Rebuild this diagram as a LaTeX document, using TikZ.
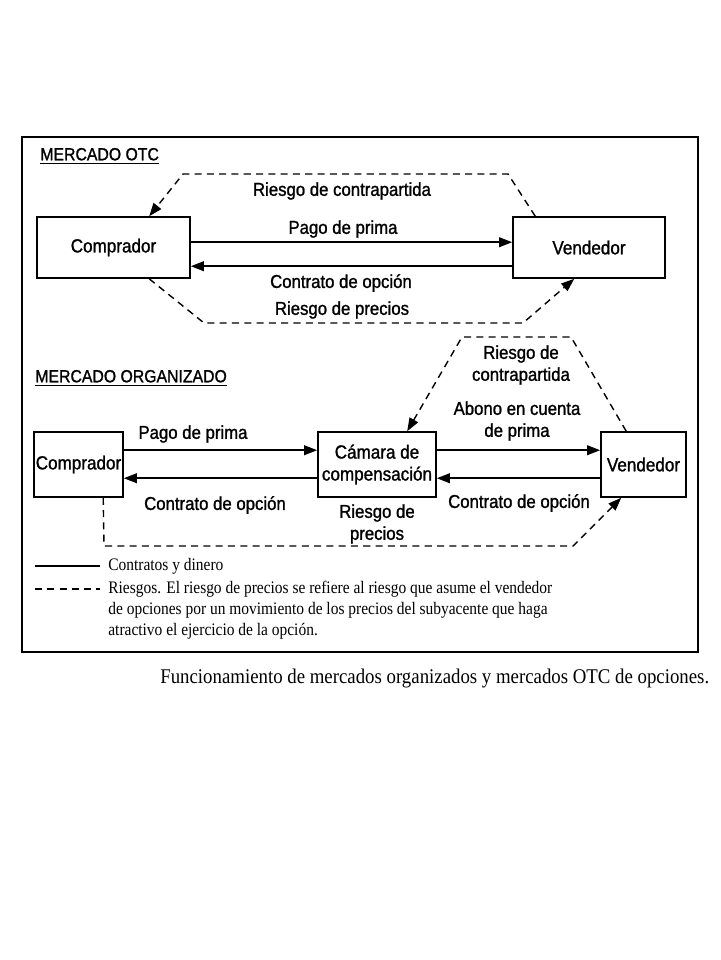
\documentclass[tikz,border=0pt]{standalone}
\usepackage{fontspec}
\setmainfont{Liberation Serif}
\newfontfamily\dsans[FakeStretch=0.9,FakeBold=1.2]{Liberation Sans}
\newfontfamily\dserif[FakeStretch=0.88]{Liberation Serif}
\newfontfamily\cserif[FakeStretch=0.9]{Liberation Serif}
\usetikzlibrary{arrows.meta,calc}
\begin{document}
\begin{tikzpicture}[x=0.02cm,y=-0.02cm,
  box/.style={draw,line width=0.9pt,inner sep=0pt,font=\dsans\fontsize{10.8}{12.5}\selectfont,align=center},
  lbl/.style={font=\dsans\fontsize{10.6}{12.5}\selectfont,align=center,inner sep=0pt},
  ttl/.style={font=\dsans\fontsize{10}{12}\selectfont,anchor=west,inner sep=0pt},
  flow/.style={line width=1.1pt,-{Triangle[length=7.5pt,width=5.5pt]}},
  risk/.style={line width=0.8pt,dash pattern=on 4pt off 3pt,-{Triangle[length=7.5pt,width=5.5pt]}},
  leg/.style={font=\dserif\fontsize{10}{12}\selectfont,anchor=west,inner sep=0pt,align=left}]
\useasboundingbox (0,0) rectangle (720,960);
\fill[white] (0,0) rectangle (720,960);
% frame
\draw[line width=1.2pt] (22,137) rectangle (698,652);

% ---------------- OTC
\node[ttl] (t1) at (40,156) {\underline{MERCADO OTC}};
\node[box,minimum width=3.06cm,minimum height=1.22cm] (c1) at (113.5,247.5) {Comprador};
\node[box,minimum width=3.04cm,minimum height=1.22cm] (v1) at (589,247.5) {Vendedor};
\draw[flow] ($(c1.north east)+(0,26)$) -- ($(v1.north west)+(0,26)$);
\draw[flow] ($(v1.north west)+(0,50)$) -- ($(c1.north east)+(0,50)$);
\coordinate (a1) at (508,174);
\coordinate (a2) at (183,174);
\coordinate (a3) at (204,323);
\coordinate (a4) at (523,323);
\draw[risk] ($(v1.north west)+(23,0)$) -- (a1) -- (a2) -- ($(c1.north west)+(113,0)$);
\draw[risk] ($(c1.south west)+(113,0)$) -- (a3) -- (a4) -- ($(v1.south west)+(62,0)$);
\node[lbl] (l1) at (342,191) {Riesgo de contrapartida};
\node[lbl] (l2) at (343,229) {Pago de prima};
\node[lbl] (l3) at (341,283) {Contrato de opción};
\node[lbl] (l4) at (342,310) {Riesgo de precios};

% ---------------- Organizado
\node[ttl] (t2) at (35,378) {\underline{MERCADO ORGANIZADO}};
\node[box,minimum width=1.78cm,minimum height=1.3cm] (c2) at (78.5,464.5) {Comprador};
\node[box,minimum width=2.36cm,minimum height=1.3cm] (k) at (377,464.5) {Cámara de\\compensación};
\node[box,minimum width=1.7cm,minimum height=1.3cm] (v2) at (643.5,464.5) {Vendedor};
\draw[flow] ($(c2.north east)+(0,19)$) -- ($(k.north west)+(0,19)$);
\draw[flow] ($(k.north west)+(0,47)$) -- ($(c2.north east)+(0,47)$);
\draw[flow] ($(k.north east)+(0,19)$) -- ($(v2.north west)+(0,19)$);
\draw[flow] ($(v2.north west)+(0,47)$) -- ($(k.north east)+(0,47)$);
\coordinate (b1) at (571,337);
\coordinate (b2) at (462,337);
\coordinate (b3) at (104,546);
\coordinate (b4) at (573,546);
\draw[risk] ($(v2.north west)+(26,0)$) -- (b1) -- (b2) -- ($(k.north west)+(90,0)$);
\draw[risk] ($(c2.south west)+(70,0)$) -- (b3) -- (b4) -- ($(v2.south west)+(21,0)$);
\node[lbl] (m1) at (193,434) {Pago de prima};
\node[lbl] (m2) at (215,505) {Contrato de opción};
\node[lbl] (m3) at (517,421) {Abono en cuenta\\de prima};
\node[lbl] (m4) at (519,503) {Contrato de opción};
\node[lbl] (m5) at (521,365) {Riesgo de\\contrapartida};
\node[lbl] (m6) at (377,524) {Riesgo de\\precios};

% ---------------- Legend
\coordinate (g1) at (35,566);
\coordinate (g2) at (100,566);
\coordinate (g3) at (35,589);
\coordinate (g4) at (100,589);
\draw[line width=0.8pt] (g1) -- (g2);
\draw[line width=0.8pt,dash pattern=on 4pt off 3pt] (g3) -- (g4);
\node[leg] (n1) at (108,566) {Contratos y dinero};
\node[leg] (n2) at (108,610) {Riesgos. El riesgo de precios se refiere al riesgo que asume el vendedor\\de opciones por un movimiento de los precios del subyacente que haga\\atractivo el ejercicio de la opción.};

% caption
\node[font=\cserif\fontsize{11.9}{14}\selectfont,anchor=west,inner sep=0pt] (cap) at (160,678) {Funcionamiento de mercados organizados y mercados OTC de opciones.};
\end{tikzpicture}
\end{document}
